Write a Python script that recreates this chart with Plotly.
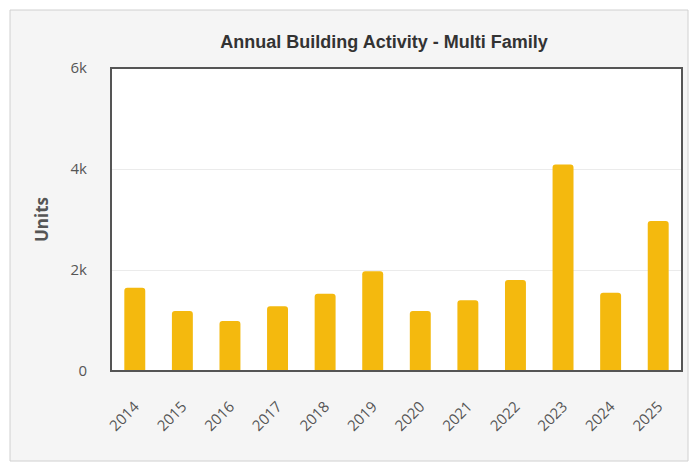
import plotly.graph_objects as go

years = ["2014", "2015", "2016", "2017", "2018", "2019", "2020", "2021", "2022", "2023", "2024", "2025"]
units = [1650, 1190, 990, 1280, 1530, 1975, 1190, 1400, 1800, 4090, 1550, 2970]
y_ticks = [0, 2000, 4000, 6000]
y_tick_text = ["0", "2k", "4k", "6k"]

W, H = 697, 463
L, R, T, B = 111, 15, 68, 92
pw, ph = W - L - R, H - T - B

def px(x):
    return (x - L) / pw

def py(y):
    return (H - B - y) / ph

fig = go.Figure()
fig.add_trace(go.Bar(
    x=years, y=units,
    marker=dict(color="#F4B90E", line=dict(width=0)),
    hoverinfo="x+y",
))

fig.update_layout(
    width=W, height=H,
    margin=dict(l=L, r=R, t=T, b=B, pad=0),
    paper_bgcolor="white",
    plot_bgcolor="white",
    bargap=0.56,
    barcornerradius=3,
    showlegend=False,
    title=dict(
        text="<b>Annual Building Activity - Multi Family</b>",
        x=px(384), xanchor="center", xref="paper",
        y=1 - 42 / H, yanchor="middle",
        font=dict(family="Liberation Sans, Arial", size=18, color="#333333"),
    ),
    shapes=[
        dict(type="rect", xref="paper", yref="paper",
             x0=px(10), x1=px(688), y0=py(461), y1=py(10),
             fillcolor="#F5F5F5", line=dict(color="#D0D0D0", width=1), layer="below"),
        dict(type="rect", xref="paper", yref="paper",
             x0=0, x1=1, y0=0, y1=1,
             fillcolor="white", line=dict(width=0), layer="below"),
        dict(type="rect", xref="paper", yref="paper",
             x0=0, x1=1, y0=0, y1=1,
             line=dict(color="#555555", width=2), layer="above"),
    ],
    font=dict(family="Open Sans, Noto Sans, Arial", color="#555555"),
)

fig.update_xaxes(
    type="category",
    tickangle=-45,
    tickfont=dict(size=15, color="#555555"),
    showgrid=False,
    showline=False,
    zeroline=False,
    ticks="outside", ticklen=20, tickcolor="rgba(0,0,0,0)",
)

fig.update_yaxes(
    range=[0, 6000],
    tickvals=y_ticks,
    ticktext=y_tick_text,
    tickfont=dict(size=15, color="#555555"),
    showgrid=True, gridcolor="#EBEBEB", gridwidth=1,
    zeroline=False,
    showline=False,
    ticks="outside", ticklen=20, tickcolor="rgba(0,0,0,0)",
    title=dict(text="<b>Units</b>", font=dict(size=17, color="#555555"), standoff=17),
)

fig.write_html("out.html")
